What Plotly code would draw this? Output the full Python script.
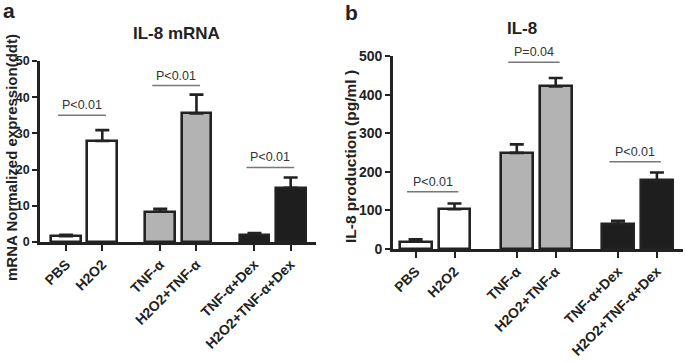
import plotly.graph_objects as go

categories = ["PBS", "H2O2", "TNF-α", "H2O2+TNF-α", "TNF-α+Dex", "H2O2+TNF-α+Dex"]
groups = [0, 0, 1, 1, 2, 2]
mrna_values = [1.6, 27.9, 8.4, 35.5, 2.0, 15.0]
mrna_errors = [0.4, 3.0, 0.8, 5.2, 0.5, 2.8]
il8_values = [19, 103, 249, 421, 66, 178]
il8_errors = [6, 15, 22, 22, 7, 20]
mrna_sig = [(0, 1, 35, "P<0.01"), (2, 3, 43.2, "P<0.01"), (4, 5, 20.6, "P<0.01")]
il8_sig = [(0, 1, 148, "P<0.01"), (2, 3, 484, "P=0.04"), (4, 5, 226, "P<0.01")]

GAP = 0.6
pos = [i + g * GAP for i, g in enumerate(groups)]
fills = ["white", "white", "#b3b3b3", "#b3b3b3", "#1e1e1e", "#1e1e1e"]
DARK = "#222222"
W, H = 685, 362

fig = go.Figure()

def add_panel(values, errors, xa, ya):
    fig.add_trace(go.Bar(
        x=pos, y=values, width=0.82, xaxis=xa, yaxis=ya,
        marker=dict(color=fills, line=dict(color=DARK, width=2.6)),
        error_y=dict(type="data", array=errors, arrayminus=[0] * len(errors),
                     symmetric=False, color=DARK, thickness=2.6, width=7),
        showlegend=False, hoverinfo="skip"))

add_panel(mrna_values, mrna_errors, "x", "y")
add_panel(il8_values, il8_errors, "x2", "y2")

FONT = "Liberation Sans, Arial"
catfont = dict(family=FONT, size=14, color=DARK)
cat_text = ["<b>%s</b>" % c for c in categories]

common_x = dict(tickmode="array", tickvals=pos, ticktext=cat_text, tickangle=-45,
                showline=True, linecolor=DARK, linewidth=2.6, ticks="outside",
                ticklen=6, tickwidth=2.4, tickcolor=DARK, showgrid=False,
                zeroline=False, tickfont=catfont, fixedrange=True, automargin=False)
common_y = dict(showline=True, linecolor=DARK, linewidth=2.6, ticks="outside",
                ticklen=5, tickwidth=2.4, tickcolor=DARK, showgrid=False,
                zeroline=False, tickprefix="<b>", ticksuffix="</b>",
                automargin=False, fixedrange=True)

fig.update_layout(
    width=W, height=H, margin=dict(l=0, r=0, t=0, b=0, autoexpand=False),
    plot_bgcolor="white", paper_bgcolor="white", bargap=0,
    xaxis=dict(domain=[40 / W, 316 / W], range=[-0.72, 6.9], anchor="y", **common_x),
    yaxis=dict(domain=[1 - 242 / H, 1 - 61 / H], range=[0, 50], dtick=10, anchor="x",
               tickfont=dict(family=FONT, size=12.5, color=DARK), **common_y),
    xaxis2=dict(domain=[393 / W, 683 / W], range=[-0.58, 6.87], anchor="y2", **common_x),
    yaxis2=dict(domain=[1 - 249 / H, 1 - 56 / H], range=[0, 500], dtick=100, anchor="x2",
                tickfont=dict(family=FONT, size=14, color=DARK), **common_y),
)

def add_sig(sigs, xr, yr):
    for a, b, yv, txt in sigs:
        fig.add_shape(type="line", xref=xr, yref=yr, x0=pos[a] - 0.22, x1=pos[b] + 0.1,
                      y0=yv, y1=yv, line=dict(color="#777777", width=1.5))
        fig.add_annotation(xref=xr, yref=yr, x=(pos[a] - 0.22 + pos[b] + 0.1) / 2, y=yv,
                           text=txt, showarrow=False, yanchor="bottom", yshift=1,
                           font=dict(family=FONT, size=12.5, color="#333333"))

add_sig(mrna_sig, "x", "y")
add_sig(il8_sig, "x2", "y2")

def paper_ann(x, y, text, size, angle=0):
    fig.add_annotation(xref="paper", yref="paper", x=x / W, y=1 - y / H, text=text,
                       showarrow=False, textangle=angle, xanchor="center", yanchor="middle",
                       font=dict(family=FONT, size=size, color=DARK))

paper_ann(176, 33, "<b>IL-8 mRNA</b>", 17)
paper_ann(522, 28, "<b>IL-8</b>", 17)
paper_ann(9, 10, "<b>a</b>", 21)
paper_ann(351, 12, "<b>b</b>", 21)
paper_ann(11, 158, "<b>mRNA Normalized expression(ddt)</b>", 15, -90)
paper_ann(351, 157, "<b>IL-8 production (pg/ml )</b>", 15.5, -90)

fig.write_html("out.html", config={"displayModeBar": False},
               post_script="document.body.style.margin='0';")
